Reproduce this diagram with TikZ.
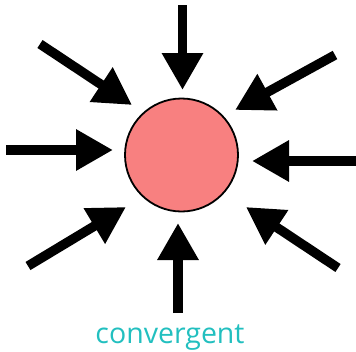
\documentclass[tikz,border=0pt]{standalone}
\usepackage{fontspec}
\setmainfont{Open Sans}
\definecolor{ballred}{HTML}{F88080}
\definecolor{labelteal}{HTML}{22BFBF}
\usetikzlibrary{arrows.meta}

\begin{document}
\begin{tikzpicture}[x=1pt,y=-1pt,
  inarrow/.style={line width=9.5pt, -{Triangle[length=37pt,width=39pt]}}]
  \useasboundingbox (0,0) rectangle (356,351);
  \node[circle, draw, line width=1.8pt, fill=ballred, minimum size=113pt, inner sep=0pt] (ball) at (181.5,155) {};
  % tails and tips of the eight arrows
  \coordinate (nTail) at (182.5,5);   \coordinate (nTip) at (182.5,90);
  \coordinate (sTail) at (178,313);   \coordinate (sTip) at (178,223);
  \coordinate (wTail) at (6,150);     \coordinate (wTip) at (113,150);
  \coordinate (eTail) at (356,161);   \coordinate (eTip) at (252,161);
  \coordinate (nwTail) at (40,44);    \coordinate (nwTip) at (132,105);
  \coordinate (neTail) at (335,55);   \coordinate (neTip) at (235,110);
  \coordinate (swTail) at (28,266);   \coordinate (swTip) at (126,207);
  \coordinate (seTail) at (338,268);  \coordinate (seTip) at (246,207);
  \draw[inarrow] (nTail) -- (nTip);
  \draw[inarrow] (sTail) -- (sTip);
  \draw[inarrow] (wTail) -- (wTip);
  \draw[inarrow] (eTail) -- (eTip);
  \draw[inarrow] (nwTail) -- (nwTip);
  \draw[inarrow] (neTail) -- (neTip);
  \draw[inarrow] (swTail) -- (swTip);
  \draw[inarrow] (seTail) -- (seTip);
  \node[text=labelteal, anchor=base, inner sep=0pt, font=\fontsize{28.5}{32}\selectfont] (label) at (170,343) {convergent};
\end{tikzpicture}
\end{document}
